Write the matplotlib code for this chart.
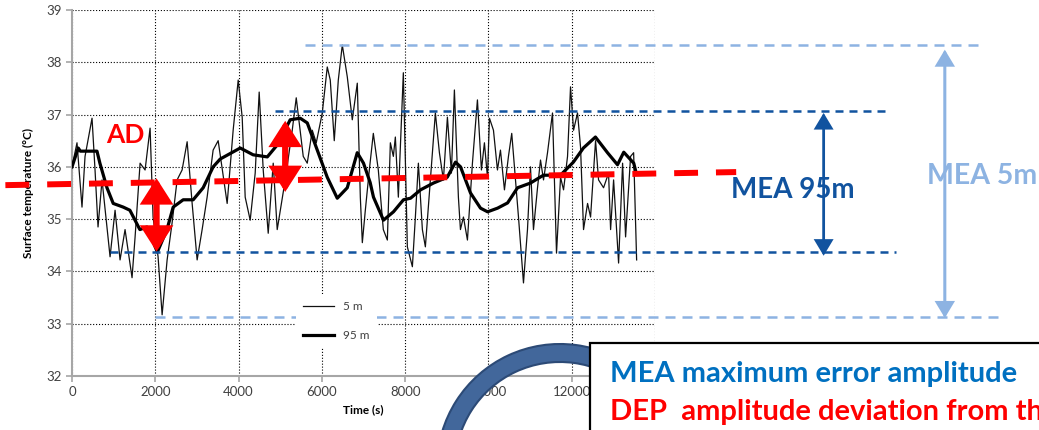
import matplotlib
matplotlib.use('Agg')
import matplotlib.pyplot as plt
from matplotlib.patches import Rectangle, Wedge
from matplotlib.transforms import IdentityTransform

# surface temperature, 5 m resolution (thin line)
t5 = [0, 120, 240, 313, 481, 553, 625, 721, 914, 1034, 1154, 1274, 1442, 1515,
      1635, 1755, 1875, 1947, 2067, 2164, 2284, 2404, 2524, 2644, 2765, 2885,
      3005, 3125, 3245, 3389, 3510, 3726, 3870, 3991, 4087, 4159, 4279, 4399,
      4495, 4592, 4712, 4832, 4928, 5120, 5289, 5385, 5457, 5553, 5649, 5770,
      5866, 6010, 6130, 6202, 6298, 6395, 6491, 6611, 6731, 6851, 6924, 6972,
      7044, 7140, 7236, 7356, 7476, 7573, 7645, 7717, 7765, 7837, 7957, 8053,
      8174, 8246, 8318, 8414, 8486, 8606, 8726, 8823, 8919, 9015, 9111, 9183,
      9279, 9328, 9400, 9496, 9616, 9736, 9832, 9904, 9977, 10025, 10121,
      10217, 10289, 10385, 10481, 10560, 10650, 10722, 10842, 10938, 11010,
      11082, 11179, 11251, 11323, 11419, 11539, 11635, 11732, 11804, 11900,
      11972, 12044, 12140, 12212, 12284, 12381, 12453, 12573, 12645, 12765,
      12885, 12934, 13006, 13126, 13222, 13294, 13414, 13487, 13559]
temp5 = [36.0, 36.46, 35.23, 36.2, 36.93, 35.94, 34.85, 35.75, 34.28, 35.17,
         34.22, 34.8, 33.88, 34.66, 36.07, 35.94, 36.74, 35.04, 34.28, 33.17,
         34.22, 34.93, 35.75, 35.94, 36.48, 35.3, 34.22, 34.8, 35.42, 36.32,
         36.5, 35.3, 36.7, 37.66, 36.95, 35.42, 34.98, 35.88, 37.43, 35.94,
         34.73, 36.07, 34.8, 35.75, 36.7, 37.32, 36.84, 36.2, 36.07, 36.7,
         36.46, 37.03, 37.91, 37.66, 36.5, 37.66, 38.33, 37.72, 36.9, 37.6,
         35.42, 34.55, 35.17, 35.94, 36.64, 35.94, 34.8, 34.6, 36.46, 36.2,
         36.57, 35.42, 37.8, 34.47, 34.09, 35.04, 36.07, 34.8, 34.47, 35.75,
         37.03, 36.27, 35.75, 36.95, 35.88, 37.47, 35.42, 34.8, 35.04, 34.6,
         36.07, 37.28, 35.94, 36.46, 35.8, 36.93, 36.7, 35.94, 36.32, 35.56,
         36.2, 36.64, 35.75, 35.04, 33.78, 34.8, 36.0, 34.8, 35.6, 36.13,
         35.75, 36.27, 37.03, 34.35, 35.8, 35.56, 36.2, 37.53, 36.7, 37.03,
         36.38, 34.8, 35.3, 35.04, 36.5, 35.75, 35.6, 35.88, 34.8, 35.75,
         34.16, 36.07, 34.66, 36.2, 36.27, 34.22]

# surface temperature, 95 m resolution (thick line)
t95 = [0, 150, 200, 600, 670, 840, 990, 1230, 1390, 1630, 1800, 2050, 2280,
       2430, 2670, 2910, 3150, 3390, 3560, 4040, 4350, 4690, 4930, 5240, 5480,
       5650, 5890, 6130, 6370, 6610, 6850, 7000, 7160, 7240, 7480, 7720, 7960,
       8130, 8370, 8680, 9010, 9210, 9330, 9570, 9810, 9980, 10220, 10460,
       10700, 11010, 11320, 11730, 12040, 12280, 12570, 12860, 13100, 13250,
       13490, 13530]
temp95 = [36.0, 36.36, 36.3, 36.3, 36.07, 35.6, 35.3, 35.23, 35.17, 34.8,
          34.85, 34.37, 34.8, 35.23, 35.37, 35.37, 35.6, 36.0, 36.15, 36.36,
          36.23, 36.19, 36.42, 36.9, 36.93, 36.84, 36.32, 35.8, 35.4, 35.6,
          36.27, 36.07, 35.7, 35.42, 34.98, 35.14, 35.37, 35.4, 35.56, 35.69,
          35.8, 36.09, 36.0, 35.5, 35.21, 35.14, 35.21, 35.31, 35.6, 35.69,
          35.84, 35.84, 36.09, 36.36, 36.57, 36.27, 36.04, 36.28, 36.07, 35.94]

# annotation levels
mea5_lo, mea5_hi = 33.12, 38.33
mea95_lo, mea95_hi = 34.37, 37.07
mean_x = [-1600, 15950]
mean_y = [35.65, 35.9]

red = '#ff0000'
dblue = '#11539f'
lblue = '#8db3e2'
font = 'Lato'

fig = plt.figure(figsize=(10.39, 4.30), dpi=100)
ax = fig.add_axes([0.0693, 0.1256, 0.5611, 0.8512])

ax.plot(t5, temp5, color='#111111', lw=0.9, label='5 m', zorder=3)
ax.plot(t95, temp95, color='black', lw=2.3, label='95 m', zorder=4)

ax.set_xlim(0, 14000)
ax.set_ylim(32, 39)
ax.set_xticks(range(0, 14001, 2000))
ax.set_yticks(range(32, 40))
ax.grid(True, color='black', linestyle=':', lw=0.8)
ax.set_axisbelow(True)
for s in ['top', 'right']:
    ax.spines[s].set_visible(False)
for s in ['left', 'bottom']:
    ax.spines[s].set_color('#a6a6a6')
    ax.spines[s].set_linewidth(1.5)
ax.tick_params(colors='#a6a6a6', length=4, width=1.2, labelcolor='#404040', labelsize=9.5)
for lab in ax.get_xticklabels() + ax.get_yticklabels():
    lab.set_family(font)
ax.set_xlabel('Time (s)', fontsize=8.5, weight='bold', family=font, labelpad=4)
ax.set_ylabel('Surface temperature (°C)', fontsize=8.5, weight='bold', family=font, labelpad=9)

leg = ax.legend(loc='upper left', bbox_to_anchor=(0.374, 0.24), frameon=True,
                facecolor='white', edgecolor='none', framealpha=1,
                prop={'family': font, 'size': 8.5}, handlelength=2.6,
                labelspacing=1.5, borderpad=0.6)
for txt in leg.get_texts():
    txt.set_color('#404040')

# dashed reference levels
ax.plot([5600, 21830], [mea5_hi, mea5_hi], color=lblue, lw=1.8, dashes=(4.0, 2.8), clip_on=False, zorder=5)
ax.plot([1990, 22260], [mea5_lo, mea5_lo], color=lblue, lw=1.8, dashes=(4.0, 2.8), clip_on=False, zorder=5)
ax.plot([4880, 19545], [mea95_hi, mea95_hi], color=dblue, lw=1.8, dashes=(3.2, 2.4), clip_on=False, zorder=5)
ax.plot([910, 19785], [mea95_lo, mea95_lo], color=dblue, lw=1.8, dashes=(3.2, 2.4), clip_on=False, zorder=5)
ax.plot(mean_x, mean_y, color=red, lw=4.3, dashes=(4.0, 3.0), clip_on=False, zorder=6)

# amplitude arrows
def darrow(x, y0, y1, color, lw, ms, hl, hw):
    ax.annotate('', xy=(x, y0), xytext=(x, y1), annotation_clip=False, zorder=7,
                arrowprops=dict(arrowstyle='<|-|>,head_length=%g,head_width=%g' % (hl, hw),
                                color=color, lw=lw, mutation_scale=ms,
                                shrinkA=0, shrinkB=0, joinstyle='miter'))

darrow(2030, 34.38, 35.78, red, 4.5, 25, 0.5, 0.32)
darrow(5120, 35.52, 36.88, red, 4.5, 25, 0.5, 0.32)
darrow(18050, 34.3, 37.03, dblue, 2.0, 18, 0.5, 0.3)
darrow(20960, 33.11, 38.24, lblue, 2.2, 18, 0.5, 0.3)

ax.text(1274, 36.61, 'AD', color=red, fontsize=19, weight='bold', family=font,
        ha='center', va='center', zorder=8)
ax.text(17300, 35.56, 'MEA 95m', color=dblue, fontsize=20, weight='bold', family=font,
        ha='center', va='center', zorder=8)
ax.text(20540, 35.83, 'MEA 5m', color=lblue, fontsize=20.5, weight='bold', family=font,
        ha='left', va='center', zorder=8)

# curved arrow and definition box
arc = Wedge((560, -37), 123, 50, 180, width=18, transform=IdentityTransform(),
            facecolor='#42679b', edgecolor='#2c4a76', lw=1.5, zorder=20)
fig.add_artist(arc)
box = Rectangle((590 / 1039, -0.1), 0.5, 87 / 430 + 0.1, transform=fig.transFigure,
                facecolor='white', edgecolor='black', lw=1.6, zorder=21)
fig.add_artist(box)
fig.text(610 / 1039, (430 - 374) / 430, 'MEA maximum error amplitude', color='#0070c0',
         fontsize=21, weight='bold', family=font, va='center', zorder=22)
fig.text(610 / 1039, (430 - 412) / 430, 'DEP  amplitude deviation from the mean', color=red,
         fontsize=21, weight='bold', family=font, va='center', zorder=22)

fig.savefig('out.png', dpi=100)
